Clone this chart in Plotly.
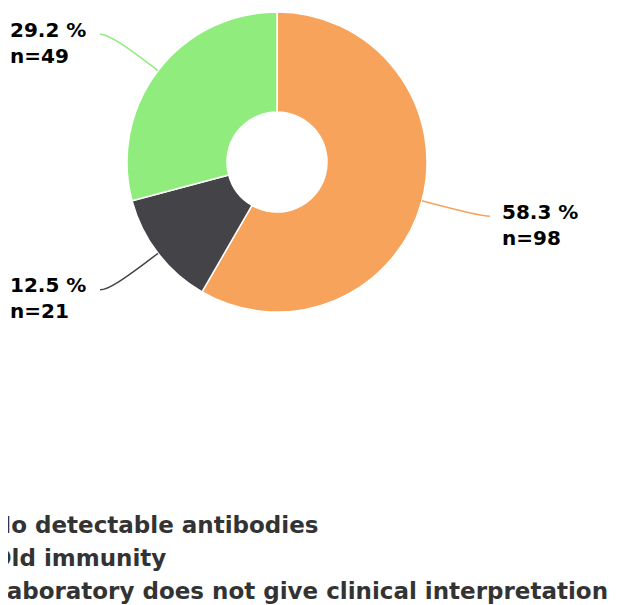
import math
import plotly.graph_objects as go

labels = ['No detectable antibodies', 'Old immunity',
          'Laboratory does not give clinical interpretation']
counts = [98, 21, 49]
colors = ['#f7a35c', '#434348', '#90ed7d']

W, H = 618, 605
OFF = 8                     # page body margin
cx, cy, R = 277, 162, 150   # pie centre / radius in px (page)
lab_r = 210                 # connectors end at this "radius" (vertically)
lab_dx = {1: 213, -1: 177}  # horizontal reach of the connectors, right / left
lab_gap = {1: 10, -1: 12}   # gap between connector end and label text


def px(x, y):
    return (x - OFF) / W, 1 - (y - OFF) / H


fig = go.Figure()
x0, y0 = px(cx - R, cy + R)
x1, y1 = px(cx + R, cy - R)
fig.add_trace(go.Pie(
    labels=labels, values=counts, sort=False,
    direction='clockwise', rotation=0, hole=50 / R,
    marker=dict(colors=colors, line=dict(color='#ffffff', width=1.5)),
    textinfo='none', hoverinfo='label+value+percent',
    domain=dict(x=[x0, x1], y=[y0, y1]),
))

total = sum(counts)
cum = 0
for n, col in zip(counts, colors):
    mid = (cum + n / 2) / total * 2 * math.pi
    cum += n
    s, c = math.sin(mid), math.cos(mid)
    side = 1 if s >= 0 else -1
    a = px(cx + R * s, cy - R * c)
    p1 = px(cx + (R + 45) * s, cy - (R + 45) * c)
    ex, ey = cx + side * lab_dx[side], cy - lab_r * c
    p2 = px(ex - side * 8, ey)
    e = px(ex, ey)
    path = 'M {:.4f},{:.4f} C {:.4f},{:.4f} {:.4f},{:.4f} {:.4f},{:.4f}'.format(
        *a, *p1, *p2, *e)
    fig.add_shape(type='path', path=path, xref='paper', yref='paper',
                  line=dict(color=col, width=1.5))
    tx, ty = px(ex + side * lab_gap[side], ey + 8.5)
    fig.add_annotation(
        x=tx, y=ty, xref='paper', yref='paper', showarrow=False,
        xanchor='left' if side > 0 else 'right', yanchor='middle', align='left',
        text='{:.1f} %<br>n={}'.format(100 * n / total, n),
        font=dict(family='DejaVu Sans', size=20, color='#000000', weight='bold'),
    )

fig.update_layout(
    width=W, height=H,
    margin=dict(l=0, r=0, t=0, b=0, autoexpand=False),
    paper_bgcolor='#ffffff', plot_bgcolor='#ffffff',
    legend=dict(x=-56 / W, xanchor='left', y=1 - (557 - OFF) / H,
                yanchor='middle', orientation='v', bgcolor='rgba(0,0,0,0)',
                font=dict(family='DejaVu Sans', size=23, color='#333333',
                          weight='bold')),
)
fig.write_html('out.html')
